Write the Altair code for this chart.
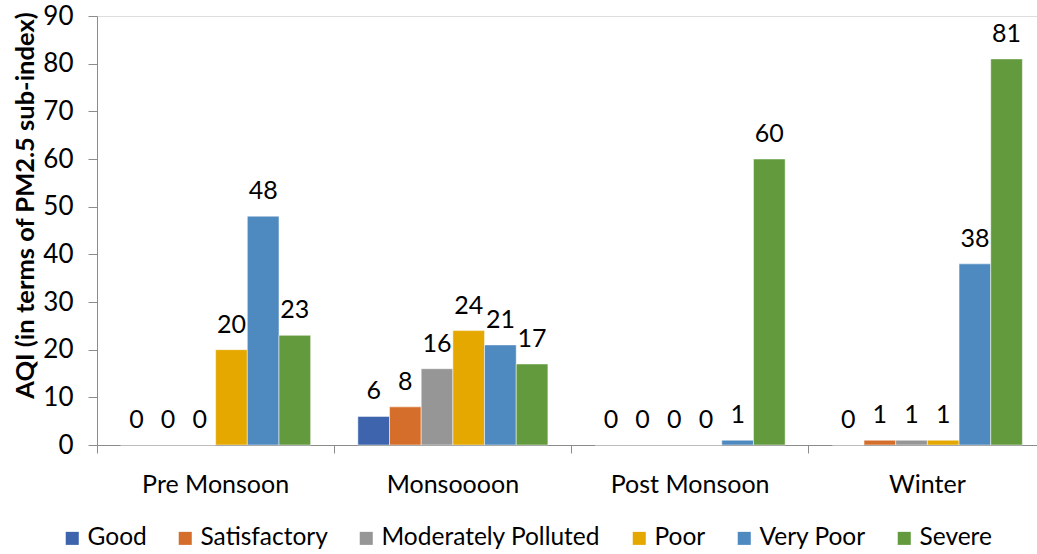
import altair as alt
import pandas as pd

seasons = ["Pre Monsoon", "Monsoooon", "Post Monsoon", "Winter"]
categories = ["Good", "Satisfactory", "Moderately Polluted", "Poor", "Very Poor", "Severe"]
colors = ["#3D64AD", "#D56E2A", "#969696", "#E4A800", "#4E89BF", "#629A3D"]
values = {
    "Pre Monsoon": [0, 0, 0, 20, 48, 23],
    "Monsoooon": [6, 8, 16, 24, 21, 17],
    "Post Monsoon": [0, 0, 0, 0, 1, 60],
    "Winter": [0, 1, 1, 1, 38, 81],
}

rows = []
for s in seasons:
    for c, v in zip(categories, values[s]):
        rows.append({"Season": s, "Category": c, "Value": v})
df = pd.DataFrame(rows)

FONT = "Lato"

base = alt.Chart(df).encode(
    x=alt.X("Season:N", sort=seasons,
            scale=alt.Scale(paddingInner=0, paddingOuter=0, range=[0, 949]),
            axis=alt.Axis(title=None, labelAngle=0, labelFontSize=25, labelFont=FONT,
                          labelColor="#000", labelPadding=19, domainColor="#8c8c8c",
                          tickColor="#8c8c8c", tickSize=8, bandPosition=0, grid=False)),
    xOffset=alt.XOffset("Category:N", sort=categories,
                        scale=alt.Scale(paddingInner=0, paddingOuter=0.745)),
)

bars = base.mark_bar(stroke="white", strokeWidth=0.5).encode(
    y=alt.Y("Value:Q", scale=alt.Scale(domain=[0, 90]),
            axis=alt.Axis(title="AQI (in terms of PM2.5 sub-index)", values=list(range(0, 91, 10)),
                          labelFontSize=26, labelFont=FONT, labelColor="#000", labelPadding=15,
                          titleFontSize=25.5, titleFont=FONT, titleFontWeight="bold", titleColor="#000",
                          titleX=-72, titleY=189, titleBaseline="middle",
                          domainColor="#8c8c8c", tickColor="#8c8c8c", tickSize=9, grid=False)),
    color=alt.Color("Category:N", sort=categories,
                    scale=alt.Scale(domain=categories, range=colors),
                    legend=alt.Legend(title=None, orient="none", direction="horizontal",
                                      legendX=-37, legendY=510, labelFontSize=24.5, labelFont=FONT,
                                      labelColor="#000", labelLimit=400, symbolType="square",
                                      symbolSize=170, symbolStrokeWidth=0, columnPadding=26,
                                      labelOffset=3)),
)

labels = base.mark_text(baseline="alphabetic", dy=-17, fontSize=25, font=FONT, color="#000").encode(
    y=alt.Y("Value:Q"),
    text=alt.Text("Value:Q"),
)

chart = (bars + labels).properties(
    width=940, height=429,
    autosize=alt.AutoSizeParams(type="none"),
    padding={"left": 97, "top": 16, "right": 0, "bottom": 109},
).configure_view(stroke=None).configure(background="white")

chart.save("out.html", embed_options={"renderer": "svg", "actions": False})
